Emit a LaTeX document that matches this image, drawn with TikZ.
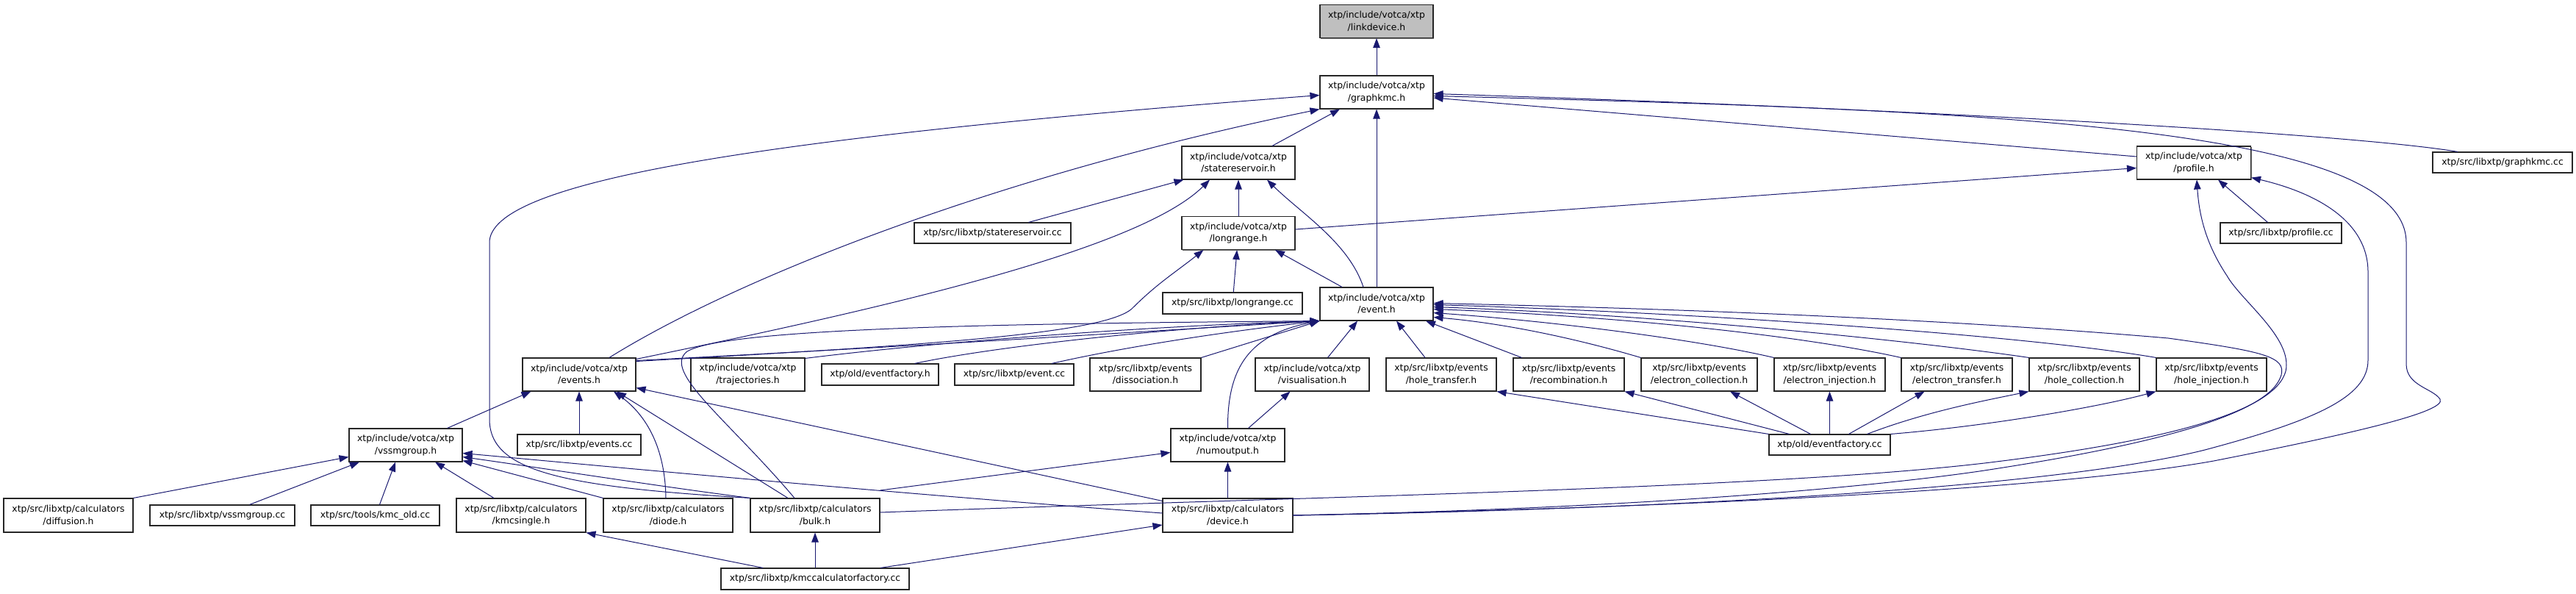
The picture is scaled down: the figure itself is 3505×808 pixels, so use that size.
\documentclass[tikz,border=0pt]{standalone}
\usepackage{fontspec}
\setmainfont{DejaVu Sans}
\usetikzlibrary{arrows.meta,calc,shadows}
\definecolor{mblue}{HTML}{191970}
\definecolor{lgray}{HTML}{BFBFBF}
\begin{document}
\begin{tikzpicture}[x=1pt,y=-1pt,
  box/.style={draw=black!85, line width=1.1pt, fill=white, inner sep=0pt, align=center,
    drop shadow={shadow xshift=1.1pt,shadow yshift=-1.1pt,fill=black!55,opacity=1},
    font=\fontsize{12.4pt}{16.7pt}\selectfont},
  bw/.style={minimum width=#1pt},
  bh/.style={minimum height=#1pt},
  edge/.style={draw=mblue, line width=1pt, -{Triangle[length=13pt,width=9.5pt]}}]
\fill[white] (0,0) rectangle (3505,808);
\useasboundingbox (0,0) rectangle (3505,808);
% nodes
\node[box,bw=154,bh=45,fill=lgray] (linkdevice) at (1873,29) {xtp/include/votca/xtp\\/linkdevice.h};
\node[box,bw=154,bh=45] (graphkmc) at (1873,125.5) {xtp/include/votca/xtp\\/graphkmc.h};
\node[box,bw=154,bh=45] (statereservoir) at (1685,221.5) {xtp/include/votca/xtp\\/statereservoir.h};
\node[box,bw=155,bh=45] (profile) at (2985,221.5) {xtp/include/votca/xtp\\/profile.h};
\node[box,bw=190,bh=28] (graphkmccc) at (3405,221) {xtp/src/libxtp/graphkmc.cc};
\node[box,bw=213,bh=28] (statereservoircc) at (1350.5,317) {xtp/src/libxtp/statereservoir.cc};
\node[box,bw=154,bh=45] (longrange) at (1685,317) {xtp/include/votca/xtp\\/longrange.h};
\node[box,bw=165,bh=28] (profilecc) at (3103.5,317) {xtp/src/libxtp/profile.cc};
\node[box,bw=190,bh=29] (longrangecc) at (1677,412.5) {xtp/src/libxtp/longrange.cc};
\node[box,bw=154,bh=45] (event) at (1873,413.5) {xtp/include/votca/xtp\\/event.h};
\node[box,bw=154,bh=45] (events) at (788,509.5) {xtp/include/votca/xtp\\/events.h};
\node[box,bw=155,bh=45] (trajectories) at (1017.5,509.5) {xtp/include/votca/xtp\\/trajectories.h};
\node[box,bw=159,bh=29] (eventfactoryh) at (1197.5,509.5) {xtp/old/eventfactory.h};
\node[box,bw=162,bh=29] (eventcc) at (1380,509.5) {xtp/src/libxtp/event.cc};
\node[box,bw=151,bh=45] (dissociation) at (1558.5,509.5) {xtp/src/libxtp/events\\/dissociation.h};
\node[box,bw=155,bh=45] (visualisation) at (1785.5,509.5) {xtp/include/votca/xtp\\/visualisation.h};
\node[box,bw=150,bh=45] (holetransfer) at (1961,509.5) {xtp/src/libxtp/events\\/hole\_transfer.h};
\node[box,bw=151,bh=45] (recombination) at (2134.5,509.5) {xtp/src/libxtp/events\\/recombination.h};
\node[box,bw=158,bh=45] (electroncollection) at (2312,509.5) {xtp/src/libxtp/events\\/electron\_collection.h};
\node[box,bw=151,bh=45] (electroninjection) at (2489.5,509.5) {xtp/src/libxtp/events\\/electron\_injection.h};
\node[box,bw=151,bh=45] (electrontransfer) at (2662.5,509.5) {xtp/src/libxtp/events\\/electron\_transfer.h};
\node[box,bw=150,bh=45] (holecollection) at (2836,509.5) {xtp/src/libxtp/events\\/hole\_collection.h};
\node[box,bw=150,bh=45] (holeinjection) at (3009,509.5) {xtp/src/libxtp/events\\/hole\_injection.h};
\node[box,bw=154,bh=45] (vssmgroup) at (552,605.5) {xtp/include/votca/xtp\\/vssmgroup.h};
\node[box,bw=168,bh=28] (eventscc) at (788,605) {xtp/src/libxtp/events.cc};
\node[box,bw=155,bh=45] (numoutput) at (1670.5,605.5) {xtp/include/votca/xtp\\/numoutput.h};
\node[box,bw=165,bh=28] (eventfactorycc) at (2489.5,605) {xtp/old/eventfactory.cc};
\node[box,bw=176,bh=46] (diffusion) at (93,701) {xtp/src/libxtp/calculators\\/diffusion.h};
\node[box,bw=197,bh=28] (vssmgroupcc) at (302.5,701) {xtp/src/libxtp/vssmgroup.cc};
\node[box,bw=175,bh=28] (kmcoldcc) at (510.5,701) {xtp/src/tools/kmc\_old.cc};
\node[box,bw=176,bh=46] (kmcsingle) at (709,701) {xtp/src/libxtp/calculators\\/kmcsingle.h};
\node[box,bw=176,bh=46] (diode) at (909,701) {xtp/src/libxtp/calculators\\/diode.h};
\node[box,bw=176,bh=46] (bulk) at (1109,701) {xtp/src/libxtp/calculators\\/bulk.h};
\node[box,bw=177,bh=46] (device) at (1670.5,701) {xtp/src/libxtp/calculators\\/device.h};
\node[box,bw=256,bh=29] (kmccalc) at (1109,787.5) {xtp/src/libxtp/kmccalculatorfactory.cc};
% edges
\draw[edge] (graphkmc) -- (linkdevice);
\draw[edge] ($(statereservoir.north)+(46,0)$) -- ($(graphkmc.south)+(-50,0)$);
\draw[edge] ($(events.north)+(41,0)$) .. controls (1000,380) and (1350,240) .. (graphkmc.south west);
\draw[edge] (event) -- (graphkmc);
\draw[edge] ($(profile.west)+(0,-8.5)$) -- ($(graphkmc.east)+(0,7.5)$);
\draw[edge] ($(graphkmccc.north)+(-61,0)$) .. controls (3200,182) and (2600,148) .. ($(graphkmc.east)+(0,2)$);
\draw[edge] (bulk.north west) .. controls (760,662) and (666,640) .. (666,570) -- (666,330) .. controls (666,250) and (1000,190) .. ($(graphkmc.west)+(0,4)$);
\draw[edge] (device.east) .. controls (2300,690) and (2800,665) .. (3012,627) .. controls (3200,590) and (3330,560) .. (3320,543) .. controls (3310,528) and (3274,525) .. (3274,495) -- (3274,330) .. controls (3274,170) and (2700,150) .. ($(graphkmc.east)+(0,5)$);
\draw[edge] ($(statereservoircc.north)+(49,0)$) -- ($(statereservoir.south west)+(3,0)$);
\draw[edge] (longrange) -- (statereservoir);
\draw[edge] ($(events.east)+(0,-21)$) .. controls (1200,420) and (1550,340) .. ($(statereservoir.south)+(-39,0)$);
\draw[edge] ($(event.north)+(-18,0)$) .. controls (1835,330) and (1770,290) .. ($(statereservoir.south)+(39,0)$);
\draw[edge] ($(longrange.east)+(0,-5)$) -- ($(profile.west)+(0,7)$);
\draw[edge] ($(profilecc.north)+(-18,0)$) -- ($(profile.south)+(33,0)$);
\draw[edge] ($(bulk.east)+(0,-4)$) .. controls (1800,675) and (2400,665) .. (2700,630) .. controls (2950,600) and (3095,560) .. (3110,505) .. controls (3120,460) and (3050,410) .. (3030,375) .. controls (3000,330) and (2992,290) .. ($(profile.south)+(4,0)$);
\draw[edge] (device.east) .. controls (2300,692) and (2800,662) .. (3000,612) .. controls (3150,572) and (3222,540) .. (3222,490) -- (3222,370) .. controls (3222,300) and (3150,262) .. ($(profile.south east)+(0,-3)$);
\draw[edge] (longrangecc) -- (longrange);
\draw[edge] ($(event.north)+(-47,0)$) -- ($(longrange.south)+(50,0)$);
\draw[edge] ($(events.east)+(0,-18)$) .. controls (1250,470) and (1500,455) .. (1540,420) .. controls (1575,385) and (1600,370) .. ($(longrange.south west)+(30,0)$);
\draw[edge] ($(events.east)+(0,-19)$) .. controls (1300,468) and (1600,448) .. (event.south west);
\draw[edge] ($(trajectories.north east)+(0,1)$) .. controls (1300,462) and (1600,442) .. (event.south west);
\draw[edge] ($(eventfactoryh.north)+(47,0)$) .. controls (1360,470) and (1600,445) .. (event.south west);
\draw[edge] ($(eventcc.north)+(51,0)$) .. controls (1530,472) and (1660,452) .. (event.south west);
\draw[edge] (dissociation.north east) -- (event.south west);
\draw[edge] ($(visualisation.north)+(21,0)$) -- ($(event.south)+(-26,0)$);
\draw[edge] ($(holetransfer.north)+(-22,0)$) -- ($(event.south)+(27,0)$);
\draw[edge] ($(recombination.north)+(-64,0)$) -- ($(event.south)+(67,0)$);
\draw[edge] (electroncollection.north west) .. controls (2150,462) and (2050,440) .. ($(event.east)+(0,18)$);
\draw[edge] (electroninjection.north west) .. controls (2300,460) and (2100,436) .. ($(event.east)+(0,12)$);
\draw[edge] (electrontransfer.north west) .. controls (2450,456) and (2200,430) .. ($(event.east)+(0,7)$);
\draw[edge] (holecollection.north west) .. controls (2650,470) and (2300,430) .. ($(event.east)+(0,4)$);
\draw[edge] (holeinjection.north west) .. controls (2750,455) and (2300,425) .. ($(event.east)+(0,1)$);
\draw[edge] (numoutput.north) .. controls (1670,500) and (1700,455) .. (event.south west);
\draw[edge] ($(bulk.north)+(-28,0)$) .. controls (990,570) and (900,505) .. (935,478) .. controls (990,445) and (1400,440) .. (event.south west);
\draw[edge] (device.east) .. controls (2300,690) and (2600,655) .. (2700,640) .. controls (2950,602) and (3090,560) .. (3104,510) .. controls (3110,485) and (3080,478) .. (2950,460) .. controls (2600,430) and (2200,418) .. ($(event.east)+(0,-1)$);
\draw[edge] (eventscc) -- (events);
\draw[edge] ($(vssmgroup.north east)+(-21,0)$) -- ($(events.south west)+(12,0)$);
\draw[edge] ($(diode.north)+(-3,0)$) .. controls (905,610) and (880,565) .. ($(events.south)+(47,0)$);
\draw[edge] ($(bulk.north)+(-37,0)$) -- ($(events.south)+(51,0)$);
\draw[edge] ($(device.north west)+(0,4)$) -- ($(events.east)+(0,18)$);
\draw[edge] (diffusion.north east) -- ($(vssmgroup.west)+(0,16)$);
\draw[edge] ($(vssmgroupcc.north)+(37,0)$) -- ($(vssmgroup.south)+(-63,0)$);
\draw[edge] ($(kmcoldcc.north)+(6,0)$) -- ($(vssmgroup.south)+(-14,0)$);
\draw[edge] ($(kmcsingle.north)+(-37,0)$) -- ($(vssmgroup.south)+(40,0)$);
\draw[edge] (diode.north west) -- ($(vssmgroup.south east)+(0,-2)$);
\draw[edge] (bulk.north west) .. controls (900,662) and (760,640) .. ($(vssmgroup.east)+(0,16)$);
\draw[edge] ($(device.west)+(0,-3)$) .. controls (1200,670) and (800,632) .. ($(vssmgroup.east)+(0,11)$);
\draw[edge] ($(numoutput.north)+(28,0)$) -- ($(visualisation.south)+(-30,0)$);
\draw[edge] ($(bulk.east)+(0,-34)$) -- ($(numoutput.west)+(0,10)$);
\draw[edge] (device) -- (numoutput);
\draw[edge] ($(kmccalc.north)+(-71,0)$) -- (kmcsingle.south east);
\draw[edge] (kmccalc) -- (bulk);
\draw[edge] ($(kmccalc.north)+(89,0)$) -- ($(device.west)+(0,13)$);
\draw[edge] (eventfactorycc.north west) -- (holetransfer.south east);
\draw[edge] ($(eventfactorycc.north)+(-55,0)$) -- (recombination.south east);
\draw[edge] ($(eventfactorycc.north)+(-26,0)$) -- ($(electroncollection.south)+(42,0)$);
\draw[edge] (eventfactorycc) -- (electroninjection);
\draw[edge] ($(eventfactorycc.north)+(26,0)$) -- ($(electrontransfer.south)+(-44,0)$);
\draw[edge] ($(eventfactorycc.north)+(51,0)$) .. controls (2620,560) and (2700,545) .. (holecollection.south west);
\draw[edge] (eventfactorycc.north east) .. controls (2700,580) and (2850,555) .. (holeinjection.south west);
\end{tikzpicture}
\end{document}
